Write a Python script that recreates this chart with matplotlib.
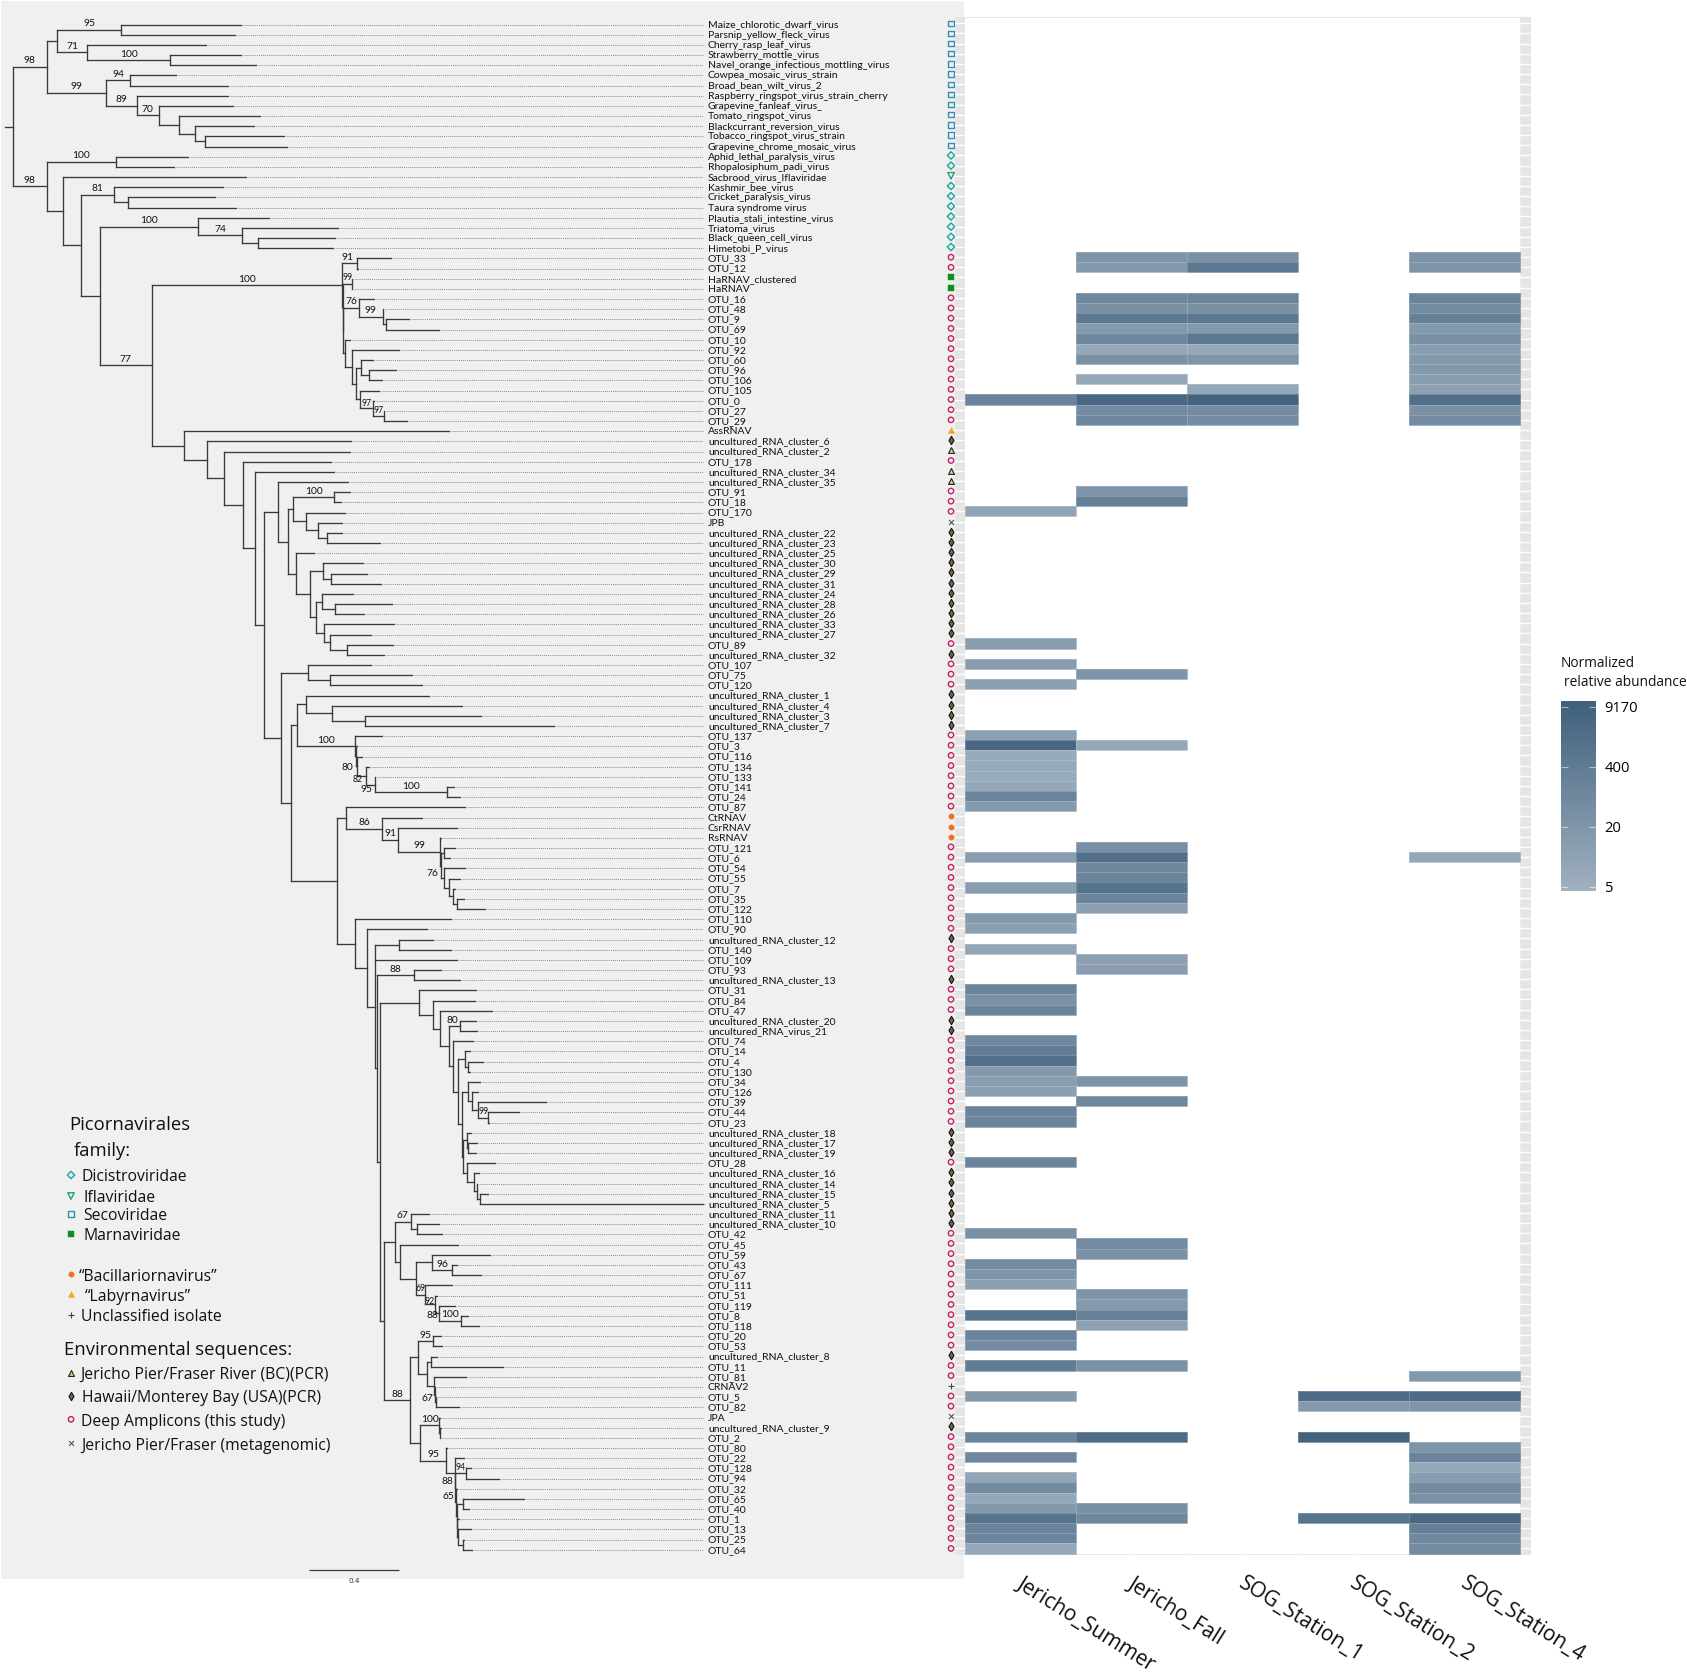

# phylogeny of picornavirales with a heat map of normalized relative abundance next to it
import numpy as np
import matplotlib
matplotlib.use("Agg")
from matplotlib import pyplot as plt
from matplotlib.cm import ScalarMappable
from matplotlib.colors import LinearSegmentedColormap, Normalize
from matplotlib.patches import Rectangle
from matplotlib.transforms import ScaledTranslation

fig_w, fig_h = 1687, 1676

# tip names, top to bottom
labels = ["Maize_chlorotic_dwarf_virus", "Parsnip_yellow_fleck_virus", "Cherry_rasp_leaf_virus",
          "Strawberry_mottle_virus", "Navel_orange_infectious_mottling_virus", "Cowpea_mosaic_virus_strain",
          "Broad_bean_wilt_virus_2", "Raspberry_ringspot_virus_strain_cherry", "Grapevine_fanleaf_virus_",
          "Tomato_ringspot_virus", "Blackcurrant_reversion_virus", "Tobacco_ringspot_virus_strain",
          "Grapevine_chrome_mosaic_virus", "Aphid_lethal_paralysis_virus", "Rhopalosiphum_padi_virus",
          "Sacbrood_virus_Iflaviridae", "Kashmir_bee_virus", "Cricket_paralysis_virus", "Taura syndrome virus",
          "Plautia_stali_intestine_virus", "Triatoma_virus", "Black_queen_cell_virus", "Himetobi_P_virus",
          "OTU_33", "OTU_12", "HaRNAV_clustered", "HaRNAV", "OTU_16", "OTU_48", "OTU_9", "OTU_69", "OTU_10",
          "OTU_92", "OTU_60", "OTU_96", "OTU_106", "OTU_105", "OTU_0", "OTU_27", "OTU_29", "AssRNAV",
          "uncultured_RNA_cluster_6", "uncultured_RNA_cluster_2", "OTU_178", "uncultured_RNA_cluster_34",
          "uncultured_RNA_cluster_35", "OTU_91", "OTU_18", "OTU_170", "JPB", "uncultured_RNA_cluster_22",
          "uncultured_RNA_cluster_23", "uncultured_RNA_cluster_25", "uncultured_RNA_cluster_30",
          "uncultured_RNA_cluster_29", "uncultured_RNA_cluster_31", "uncultured_RNA_cluster_24",
          "uncultured_RNA_cluster_28", "uncultured_RNA_cluster_26", "uncultured_RNA_cluster_33",
          "uncultured_RNA_cluster_27", "OTU_89", "uncultured_RNA_cluster_32", "OTU_107", "OTU_75", "OTU_120",
          "uncultured_RNA_cluster_1", "uncultured_RNA_cluster_4", "uncultured_RNA_cluster_3",
          "uncultured_RNA_cluster_7", "OTU_137", "OTU_3", "OTU_116", "OTU_134", "OTU_133", "OTU_141", "OTU_24",
          "OTU_87", "CtRNAV", "CsrRNAV", "RsRNAV", "OTU_121", "OTU_6", "OTU_54", "OTU_55", "OTU_7", "OTU_35",
          "OTU_122", "OTU_110", "OTU_90", "uncultured_RNA_cluster_12", "OTU_140", "OTU_109", "OTU_93",
          "uncultured_RNA_cluster_13", "OTU_31", "OTU_84", "OTU_47", "uncultured_RNA_cluster_20",
          "uncultured_RNA_virus_21", "OTU_74", "OTU_14", "OTU_4", "OTU_130", "OTU_34", "OTU_126", "OTU_39",
          "OTU_44", "OTU_23", "uncultured_RNA_cluster_18", "uncultured_RNA_cluster_17",
          "uncultured_RNA_cluster_19", "OTU_28", "uncultured_RNA_cluster_16", "uncultured_RNA_cluster_14",
          "uncultured_RNA_cluster_15", "uncultured_RNA_cluster_5", "uncultured_RNA_cluster_11",
          "uncultured_RNA_cluster_10", "OTU_42", "OTU_45", "OTU_59", "OTU_43", "OTU_67", "OTU_111", "OTU_51",
          "OTU_119", "OTU_8", "OTU_118", "OTU_20", "OTU_53", "uncultured_RNA_cluster_8", "OTU_11", "OTU_81",
          "CRNAV2", "OTU_5", "OTU_82", "JPA", "uncultured_RNA_cluster_9", "OTU_2", "OTU_80", "OTU_22", "OTU_128",
          "OTU_94", "OTU_32", "OTU_65", "OTU_40", "OTU_1", "OTU_13", "OTU_25", "OTU_64"]

# tree clades: (depth, support, children...) and a plain number is a tip depth.
# depth unit: 90 units is 0.4 substitutions per site (the scale bar)
scale_bar_units = 90
root_depth = 12.7
stem_depth = 5

secoviridae_top = (57.3, None,
                   (120.7, 95, 240.7, 235),
                   (87.3, 71, 206, (170.3, 100, 240.7, 255.7)))
secoviridae_low = (106, 99,
                   (130, 94, 175.7, 227.7),
                   (136.7, 89, 227.7,
                    (158.7, 70, 232.7, (179, None, 260.3, (195, None, 254, (204.7, None, 283.7, 286.7))))))
secoviridae = (46.7, 98, secoviridae_top, secoviridae_low)

dicistro_low = (198.3, 100, 268.7, (242, 74, 337.7, (258, None, 335, 333.3)))
harnav_clade = (342.3, 100,
                (357, 91, 390.7, 357.7),
                (342.8, None,
                 (351.7, 99, 352.3, 352.3),
                 (343.3, None,
                  (359, 76, 374, (382.7, 99, 383.3, (386, None, 409, 438.7))),
                  (345.3, None, 350,
                   (352.3, None, 399.3,
                    (355.7, None,
                     (361.3, None, 372.7, (369.3, None, 396, 382.3)),
                     (360.3, None, 379, (372.7, 97, 374, (383.7, 97, 384.3, 407)))))))))

uncultured_a = (278, None, 348.3,
                (287.7, None,
                 (293, None,
                  (334.3, 100, 350, 340.7),
                  (306, None, 345, (318, None, 342, (327, None, 342, 380)))),
                 (295.7, None, 314,
                  (310, None,
                   (322.7, None, 363.3, (330.7, None, 367, 381)),
                   (316.3, None,
                    (321.7, None, 352.7, (335.3, None, 391.7, 364)),
                    (324.3, None, 394, (330, None, 370.7, (347, None, 393, 384))))))))
otu_137_clade = (355, 100, 381.7,
                 (356, None, 356.7,
                  (357, 80, 361.7,
                   (366, 82, 369.3, (374.7, 95, 375.3, (446.7, 100, 454, 460))))))
uncultured_b = (297.3, None,
                (305.7, None, 428.7, (331.7, None, 462, (365, None, 480.7, 554))),
                otu_137_clade)
rna_clade = (346, None, 465.3,
             (382.3, 86, 421.7,
              (398.3, 91, 456.7,
               (439.7, 99, 441,
                (440.7, None,
                 (444, None, 455, 450),
                 (444.3, 76, 465, (448.7, None, 460, (453, None, 455, (456.7, None, 463.7, 485)))))))))
otu_74_clade = (452.7, None, 473,
                (457.7, None,
                 (465, None, 470, (468.3, None, 483.3, 470)),
                 (462.3, None,
                  (467.7, None, 479.7, (472.3, None, 477.7, (478, None, 546, (488.3, 99, 519.3, 489.3)))),
                  (463.3, None,
                   (466.7, None, 471, (468, None, 476.7, 476)),
                   (466.7, None, 495,
                    (473.7, None, 479, (476.7, None, 477.3, (480.3, None, 488, 703.3))))))))
otu_31_clade = (419, None, 475.7,
                (432.7, None, 475,
                 (439.7, None, 492, (449, None, (460.3, 80, 475.7, 477.3), otu_74_clade))))
otu_42_clade = (395, None,
                (410.7, 67, 429, (416.7, None, 439, 441.7)),
                (399.7, None, 458,
                 (416, None,
                  (432.3, None, 490, (451.7, 96, 456.7, 481)),
                  (424.7, 69, 452,
                   (434.7, 92, 436.7, (439, 88, 455, (460.7, 100, 467.7, 479.3)))))))
otu_20_clade = (418.3, None,
                (433, 95, 440.7, 441.7),
                (427, None,
                 (431.3, None, 437.3, 503.3),
                 (434.3, None, 465.7, (435, None, 435, (435.7, 67, 436.3, 459.3)))))
otu_80_clade = (446, 95, 446.7,
                (454.7, None, 464,
                 (455.3, 88, (466.3, 94, 470.7, 499),
                  (456, 65, 456.7,
                   (456.7, None,
                    (463, None, 524, 469.3),
                    (457.3, None, 459, (458.3, None, 471, (463.3, None, 464, 471.7))))))))
otu_2_clade = (420, None, (439.3, 100, 440, (439.8, None, 440.7, 440)), otu_80_clade)
deep_clade = (380, None, otu_31_clade,
              (383.7, None, otu_42_clade, (410.3, 88, otu_20_clade, otu_2_clade)))
lower_clade = (355, None, 451,
               (367.3, None, 427,
                (375.3, None,
                 (399, None, 433, 451),
                 457,
                 (377.3, None, (414, 88, 441, 460), deep_clade))))
uncultured_c = (281, None,
                (308.3, None, 370.7, (330, None, 411.7, 422)),
                (291, None, uncultured_b, (336.7, None, rna_clade, lower_clade)))
env_clade = (184, None, 449,
             (207.3, None, 351,
              (223.7, None, 349.7,
               (243.3, None, 331,
                (255.3, None, 334, (263.7, None, uncultured_a, uncultured_c))))))
dicistro = (47, 98,
            (115.7, 100, 188, 174),
            (63, None, 246,
             (81, None,
              (114, 81, 222.7, (128, None, 215, 236)),
              (99.7, None, dicistro_low, (151.7, 77, harnav_clade, env_clade)))))
tree = (root_depth, None, secoviridae, dicistro)

# support labels that sit off the branch midpoint, or are set smaller, key is (depth, support)
support_nudge = {(357, 91): (-2, 0), (372.7, 97): (0, 1.5), (383.7, 97): (0, 0.5), (357, 80): (-9.5, 7),
                 (366, 82): (-4, 10), (374.7, 95): (-3.5, 10.5), (444.3, 76): (-9.8, 2), (460.3, 80): (-2, 0),
                 (434.7, 92): (0, 3), (439, 88): (-4.5, 8), (435.7, 67): (-7.6, 2.7), (455.3, 88): (-7.7, 0),
                 (456, 65): (-7.5, 0)}
small_supports = [(372.7, 97), (383.7, 97), (351.7, 99), (366, 82), (488.3, 99), (424.7, 69), (434.7, 92),
                  (466.3, 94)]

# marker classes for the tips
hawaii_tri = ["uncultured_RNA_cluster_2", "uncultured_RNA_cluster_34", "uncultured_RNA_cluster_35"]
secoviridae_tips = labels[:13]
iflaviridae_tips = ["Sacbrood_virus_Iflaviridae"]
dicistroviridae_tips = labels[13:15] + labels[16:23]
marnaviridae_tips = ["HaRNAV_clustered", "HaRNAV"]
bacillario_tips = ["CtRNAV", "CsrRNAV", "RsRNAV"]
labyrnavirus_tips = ["AssRNAV"]
unclassified_tips = ["CRNAV2"]
metagenomic_tips = ["JPA", "JPB"]
amplicon_tips = [n for n in labels if n.startswith("OTU_")]
pcr_bc_tips = hawaii_tri
pcr_usa_tips = [n for n in labels if n.startswith("uncultured_") and n not in hawaii_tri]

# heat map. only the filled cells are listed
columns = ["Jericho_Summer", "Jericho_Fall", "SOG_Station_1", "SOG_Station_2", "SOG_Station_4"]
summer_otus = ["OTU_0", "OTU_170", "OTU_89", "OTU_107", "OTU_120", "OTU_137", "OTU_3", "OTU_116", "OTU_134",
               "OTU_133", "OTU_141", "OTU_24", "OTU_87", "OTU_6", "OTU_7", "OTU_110", "OTU_90", "OTU_140",
               "OTU_31", "OTU_84", "OTU_47", "OTU_74", "OTU_14", "OTU_4", "OTU_130", "OTU_34", "OTU_126",
               "OTU_44", "OTU_23", "OTU_28", "OTU_42", "OTU_43", "OTU_67", "OTU_111", "OTU_8", "OTU_20",
               "OTU_53", "OTU_11", "OTU_5", "OTU_2", "OTU_22", "OTU_94", "OTU_32", "OTU_65", "OTU_40", "OTU_1",
               "OTU_13", "OTU_25", "OTU_64"]
summer_values = [140, 9, 14, 14, 12, 12, 3580, 7, 7, 7, 8, 140, 17, 14, 14, 17, 12, 9,
                 140, 36, 140, 89, 345, 1400, 17, 14, 12,
                 140, 140, 140, 36, 57, 23, 12, 875, 140,
                 57, 345, 17, 140, 89, 9, 57, 8, 17, 875,
                 140, 140, 8]
fall_otus = ["OTU_33", "OTU_12", "OTU_16", "OTU_48", "OTU_9", "OTU_69", "OTU_10", "OTU_92", "OTU_60", "OTU_106",
             "OTU_0", "OTU_27", "OTU_29", "OTU_91", "OTU_18", "OTU_75", "OTU_3", "OTU_121", "OTU_6", "OTU_54",
             "OTU_55", "OTU_7", "OTU_35", "OTU_122", "OTU_109", "OTU_93", "OTU_34", "OTU_39", "OTU_45", "OTU_59",
             "OTU_51", "OTU_119", "OTU_8", "OTU_118", "OTU_11", "OTU_2", "OTU_40", "OTU_1"]
fall_values = [23, 17, 89, 36, 550, 17, 89, 8, 36, 8,
               3580, 57, 89, 23, 220, 23, 8, 36, 1400, 89,
               140, 875, 140, 12, 12, 14, 23, 89, 57, 36,
               23, 17, 220, 12, 36, 2240, 36, 89]
sog1_otus = ["OTU_33", "OTU_12", "OTU_16", "OTU_48", "OTU_9", "OTU_69", "OTU_10", "OTU_92", "OTU_60", "OTU_105",
             "OTU_0", "OTU_27", "OTU_29"]
sog1_values = [36, 550, 140, 36, 550, 17, 550, 8, 23, 8, 5730, 57, 57]
sog2_otus = ["OTU_5", "OTU_82", "OTU_2", "OTU_1"]
sog2_values = [2240, 17, 5730, 875]
sog4_otus = ["OTU_33", "OTU_12", "OTU_16", "OTU_48", "OTU_9", "OTU_69", "OTU_10", "OTU_92", "OTU_60", "OTU_96",
             "OTU_106", "OTU_105", "OTU_0", "OTU_27", "OTU_29", "OTU_6", "OTU_81", "OTU_5", "OTU_82", "OTU_80",
             "OTU_22", "OTU_128", "OTU_94", "OTU_32", "OTU_65", "OTU_1", "OTU_13", "OTU_25", "OTU_64"]
sog4_values = [23, 23, 140, 57, 220, 17, 36, 14, 17, 17,
               14, 12, 1400, 36, 57, 8, 17, 2240, 23, 23,
               140, 8, 14, 57, 36, 3580, 220, 89, 57]

abundance_ticks = [5, 20, 400, 9170]
tick_levels = [0, 1 / 3, 2 / 3, 1]
abundance_colors = ["#a0b1c0", "#3f5f7c"]

row_px0, row_px = 24.5, 10.168


def px_axes(left, top, right, bottom, **kwargs):
    return fig.add_axes([left / fig_w, 1 - bottom / fig_h, (right - left) / fig_w, (bottom - top) / fig_h], **kwargs)


fig = plt.figure(figsize=(fig_w / 100, fig_h / 100), dpi=100, facecolor="white")

# ---- tree ----
tree_ax = px_axes(1, 1, 964, 1579, facecolor="#f0f0f0")
tree_ax.set_xlim(1, 964)
tree_ax.set_ylim((1579 - row_px0) / row_px, (1 - row_px0) / row_px)
tree_ax.set_xticks([])
tree_ax.set_yticks([])
for spine in tree_ax.spines.values():
    spine.set_visible(False)

h_segments, v_segments, tips, supports = [], [], [], []
tip_counter = [0]


# walks the tree, a node sits halfway between its first and last child
def walk(node, parent_depth):
    if not isinstance(node, tuple):
        row = tip_counter[0]
        tip_counter[0] += 1
        h_segments.append((row, parent_depth, node))
        tips.append((row, node))
        return row
    depth, support = node[0], node[1]
    rows = [walk(child, depth) for child in node[2:]]
    y = (rows[0] + rows[-1]) / 2
    v_segments.append((depth, rows[0], rows[-1]))
    h_segments.append((y, parent_depth, depth))
    if support is not None:
        supports.append((depth, support, (parent_depth + depth) / 2, y))
    return y


walk(tree, stem_depth)

tip_rows = [t[0] for t in tips]
tree_ax.hlines(tip_rows, [t[1] + 2 for t in tips], 703, color="#8c8c8c", lw=0.7, linestyle=(0, (1, 1)))
tree_ax.hlines([s[0] for s in h_segments], [s[1] for s in h_segments], [s[2] for s in h_segments],
               color="#3a3a3a", lw=0.95, capstyle="projecting")
tree_ax.vlines([s[0] for s in v_segments], [s[1] for s in v_segments], [s[2] for s in v_segments],
               color="#3a3a3a", lw=0.95, capstyle="projecting")

label_font = "Lato"
for depth, support, mid, y in supports:
    dx, dy = support_nudge.get((depth, support), (0, 0))
    size = 6.2 if (depth, support) in small_supports else 7.4
    tree_ax.text(mid + dx, y + (dy - 6) / row_px, str(support), ha="center", va="center",
                 fontsize=size, family=label_font, color="#111111")

for row, name in enumerate(labels):
    tree_ax.text(708, row + 0.05, name, va="center", ha="left", fontsize=7.45, family=label_font, color="#111111")

# scale bar
bar_row = (1570 - row_px0) / row_px
tree_ax.hlines(bar_row, 309, 309 + scale_bar_units, color="#3a3a3a", lw=0.9)
tree_ax.text(354, bar_row + 1.05, "0.4", ha="center", va="center", fontsize=5.2, family="Liberation Sans Narrow",
             color="#333333", clip_on=False)

# one style for each class of tip, used for the markers and for the key
styles = {
    "seco": dict(marker="s", s=15, facecolor="none", edgecolor="#2f8fb5", linewidths=1.0),
    "dici": dict(marker="D", s=14, facecolor="none", edgecolor="#14a89c", linewidths=1.0),
    "ifla": dict(marker="v", s=22, facecolor="none", edgecolor="#2a9d72", linewidths=1.0),
    "marna": dict(marker="s", s=14, facecolor="#0c8f1c", edgecolor="#0c8f1c", linewidths=0.3),
    "bacil": dict(marker="o", s=15, facecolor="#f0701f", edgecolor="#f0701f", linewidths=0.3),
    "laby": dict(marker="^", s=20, facecolor="#f7a81b", edgecolor="#f7a81b", linewidths=0.3),
    "uncl": dict(marker="+", s=24, color="#444444", linewidths=0.8),
    "bc": dict(marker="^", s=18, facecolor="#d9cf86", edgecolor="#222222", linewidths=0.8),
    "usa": dict(marker="d", s=18, facecolor="#7b6540", edgecolor="#111111", linewidths=0.8),
    "deep": dict(marker="o", s=15, facecolor="none", edgecolor="#c4215f", linewidths=1.0),
    "meta": dict(marker="x", s=13, color="#444444", linewidths=0.7),
}
tip_classes = {"seco": secoviridae_tips, "dici": dicistroviridae_tips, "ifla": iflaviridae_tips,
               "marna": marnaviridae_tips, "bacil": bacillario_tips, "laby": labyrnavirus_tips,
               "uncl": unclassified_tips, "bc": pcr_bc_tips, "usa": pcr_usa_tips, "deep": amplicon_tips,
               "meta": metagenomic_tips}
for key, names in tip_classes.items():
    rows = [labels.index(n) - 0.12 for n in names]
    tree_ax.scatter([951] * len(rows), rows, zorder=5, clip_on=False, **styles[key])

# ---- heat map ----
cell_w = 111.0
heat_row0 = 23.3
heat_ax = px_axes(954.7, 17, 1531, 1555, facecolor="#e5e5e5")
heat_ax.set_xlim((954.7 - 965.4) / cell_w, 5 + (1531 - 1520.4) / cell_w)
heat_ax.set_ylim((1555 - heat_row0) / row_px, (17 - heat_row0) / row_px)
for spine in heat_ax.spines.values():
    spine.set_visible(False)
heat_ax.set_axisbelow(True)
heat_ax.set_yticks(range(len(labels)), [""] * len(labels))
heat_ax.set_xticks(np.arange(5) + 0.5, columns, rotation=-32, ha="left", rotation_mode="anchor",
                   fontsize=15.1, family="Open Sans", color="#111111")
heat_ax.tick_params(length=0)
heat_ax.tick_params(axis="x", pad=13)
# the labels start a little right of the column centre
for tick_label in heat_ax.get_xticklabels():
    tick_label.set_transform(tick_label.get_transform() + ScaledTranslation(0.03, 0, fig.dpi_scale_trans))
heat_ax.grid(color="white", lw=1.0)
heat_ax.add_patch(Rectangle((0, -0.5), 5, len(labels), facecolor="white", edgecolor="none", zorder=1))

heat_cmap = LinearSegmentedColormap.from_list("abundance", abundance_colors)
heat_matrix = np.full((len(labels), 5), np.nan)
column_data = [(summer_otus, summer_values), (fall_otus, fall_values), (sog1_otus, sog1_values),
               (sog2_otus, sog2_values), (sog4_otus, sog4_values)]
for col, (names, values) in enumerate(column_data):
    for name, value in zip(names, values):
        # the legend scale is not plain log, ticks are spaced evenly
        heat_matrix[labels.index(name), col] = np.interp(np.log(value), np.log(abundance_ticks), tick_levels)
heat_ax.pcolormesh(np.arange(6), np.arange(len(labels) + 1) - 0.5, np.ma.masked_invalid(heat_matrix),
                   cmap=heat_cmap, vmin=0, vmax=1, edgecolors=(1, 1, 1, 0.2), linewidth=0.5, zorder=2)

# ---- colour bar ----
cax = px_axes(1560.7, 701, 1595.7, 890.7)
bar_norm = Normalize(vmin=-4 / 180, vmax=1 + 5.7 / 180)
bar = fig.colorbar(ScalarMappable(norm=bar_norm, cmap=LinearSegmentedColormap.from_list(
    "bar", [heat_cmap(bar_norm.vmin), heat_cmap(1.0)])), cax=cax)
bar.outline.set_visible(False)
bar.set_ticks(tick_levels, labels=[str(t) for t in abundance_ticks])
cax.yaxis.set_ticks_position("both")
cax.tick_params(direction="in", length=5, width=0.8, color=(1, 1, 1, 0.55), left=True, right=True,
                labelleft=False, labelright=True, pad=6.5, labelsize=10.6, labelfontfamily="Open Sans")

# ---- text and key on top of everything, in pixels ----
top_ax = px_axes(0, 0, fig_w, fig_h)
top_ax.set_xlim(0, fig_w)
top_ax.set_ylim(fig_h, 0)
top_ax.axis("off")


def key_text(x, y, text, size=12):
    top_ax.text(x, y + 2.2, text, ha="left", va="center", fontsize=size, family="Open Sans", color="#111111")


key_text(1561, 661, "Normalized", 9.9)
key_text(1564, 680, "relative abundance", 9.9)

key_text(69.3, 1123, "Picornavirales", 13.3)
key_text(74, 1149, "family:", 13.3)
key_text(64, 1347.3, "Environmental sequences:", 13.3)

key_rows = [("dici", 1175, 81.3, "Dicistroviridae"), ("ifla", 1196, 84, "Iflaviridae"),
            ("seco", 1214, 83.7, "Secoviridae"), ("marna", 1234, 84, "Marnaviridae"),
            ("bacil", 1274.3, 78.3, "\u201cBacillariornavirus\u201d"), ("laby", 1294.3, 84.3, "\u201cLabyrnavirus\u201d"),
            ("uncl", 1315, 81.3, "Unclassified isolate"), ("bc", 1372.7, 80, "Jericho Pier/Fraser River (BC)(PCR)"),
            ("usa", 1396, 82.3, "Hawaii/Monterey Bay (USA)(PCR)"), ("deep", 1419.3, 81.3, "Deep Amplicons (this study)"),
            ("meta", 1443.3, 81, "Jericho Pier/Fraser (metagenomic)")]
for key, y, x, text in key_rows:
    top_ax.scatter([71], [y], **styles[key])
    key_text(x, y, text, 11.35)

plt.savefig("out.png", dpi=100)
